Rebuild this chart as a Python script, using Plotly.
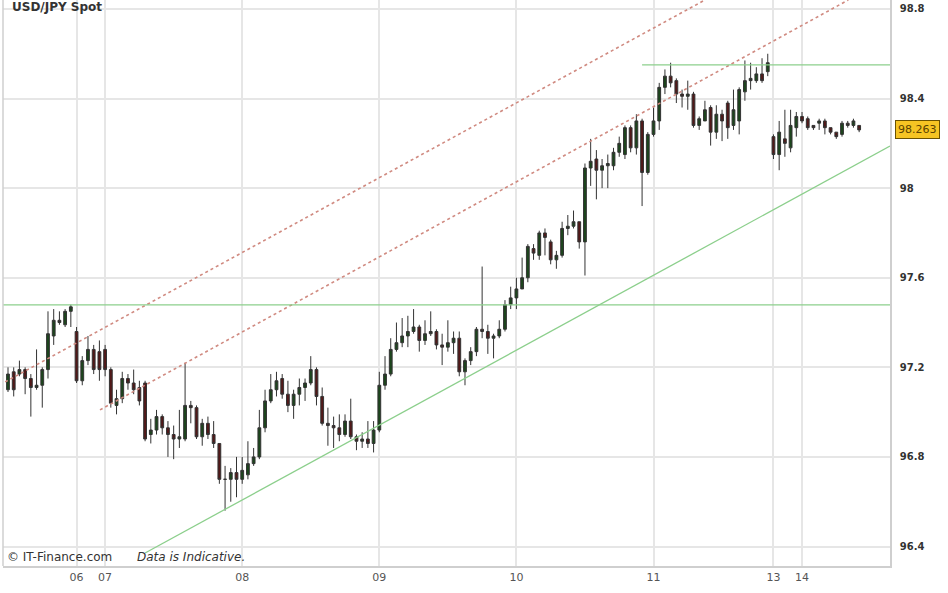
import plotly.graph_objects as go

# Hourly USD/JPY candles (index positions)
opens = [97.10, 97.18, 97.17, 97.19, 97.15, 97.11, 97.12, 97.19, 97.34, 97.41, 97.39, 97.45,
         97.36, 97.14, 97.23, 97.28, 97.27,
         97.28, 97.19, 97.03, 97.06, 97.15, 97.13, 97.11, 97.13, 96.90, 96.92, 96.98, 96.93,
         96.90, 96.88, 96.88, 97.03, 97.02, 96.89, 96.95, 96.90, 96.86, 96.70, 96.70, 96.73,
         96.70, 96.72, 96.77, 96.80, 96.93, 97.05, 97.10, 97.15, 97.08, 97.03, 97.08, 97.11,
         97.13, 97.19, 97.07, 96.95, 96.94, 96.93, 96.90, 96.96, 96.89, 96.87, 96.88, 96.86,
         96.92, 97.12, 97.17, 97.28, 97.31, 97.34, 97.36, 97.38, 97.32, 97.35, 97.36, 97.30,
         97.29, 97.31, 97.33, 97.18, 97.23, 97.27, 97.37, 97.36, 97.33, 97.34, 97.37, 97.48,
         97.51, 97.55, 97.60, 97.73, 97.70, 97.80, 97.76, 97.68, 97.70, 97.82, 97.83, 97.85,
         97.76, 98.09, 98.13, 98.08, 98.10, 98.10, 98.16, 98.15, 98.27, 98.18, 98.30, 98.07,
         98.24, 98.30, 98.45, 98.50, 98.48, 98.42, 98.41, 98.42, 98.28, 98.30, 98.36, 98.25,
         98.33, 98.38, 98.28, 98.30, 98.43, 98.48, 98.48, 98.51, 98.52,
         98.23, 98.15, 98.22, 98.18, 98.27,
         98.32, 98.31, 98.28, 98.29, 98.30, 98.27, 98.25, 98.24, 98.29, 98.28, 98.28]
highs = [97.20, 97.20, 97.23, 97.20, 97.17, 97.28, 97.20, 97.45, 97.46, 97.45, 97.46, 97.48,
         97.38, 97.25, 97.34, 97.30, 97.32,
         97.30, 97.20, 97.10, 97.18, 97.17, 97.19, 97.14, 97.14, 96.97, 97.01, 96.99, 96.96,
         96.94, 97.01, 97.22, 97.05, 97.03, 96.97, 96.98, 96.96, 96.86, 96.76, 96.75, 96.80,
         96.80, 96.87, 96.84, 97.01, 97.10, 97.17, 97.18, 97.17, 97.14, 97.10, 97.15, 97.15,
         97.25, 97.20, 97.11, 97.02, 96.98, 96.99, 96.99, 97.06, 96.90, 96.91, 96.96, 96.96,
         97.18, 97.25, 97.33, 97.40, 97.42, 97.43, 97.46, 97.39, 97.41, 97.45, 97.37, 97.35,
         97.41, 97.36, 97.36, 97.24, 97.29, 97.38, 97.65, 97.39, 97.35, 97.41, 97.50, 97.56,
         97.60, 97.69, 97.75, 97.75, 97.81, 97.82, 97.77, 97.72, 97.85, 97.88, 97.90, 97.85,
         98.11, 98.22, 98.17, 98.13, 98.15, 98.18, 98.23, 98.28, 98.28, 98.33, 98.31, 98.25,
         98.36, 98.47, 98.53, 98.56, 98.49, 98.44, 98.48, 98.43, 98.32, 98.39, 98.37, 98.37,
         98.35, 98.39, 98.44, 98.45, 98.57, 98.56, 98.54, 98.58, 98.60,
         98.24, 98.30, 98.35, 98.35, 98.34,
         98.34, 98.32, 98.28, 98.31, 98.31, 98.27, 98.25, 98.30, 98.30, 98.31, 98.28]
lows = [97.09, 97.07, 97.16, 97.08, 96.98, 97.10, 97.02, 97.15, 97.30, 97.39, 97.38, 97.38,
        97.13, 97.12, 97.21, 97.17, 97.14,
        97.16, 97.02, 96.99, 97.04, 97.10, 97.08, 97.03, 96.87, 96.86, 96.90, 96.90, 96.80,
        96.79, 96.84, 96.87, 96.95, 96.88, 96.85, 96.88, 96.84, 96.68, 96.56, 96.60, 96.62,
        96.68, 96.70, 96.76, 96.79, 96.91, 97.04, 97.07, 97.06, 97.00, 96.97, 97.03, 97.05,
        97.12, 97.03, 96.94, 96.85, 96.84, 96.87, 96.89, 96.88, 96.83, 96.84, 96.84, 96.82,
        96.91, 97.10, 97.16, 97.27, 97.29, 97.29, 97.35, 97.27, 97.30, 97.34, 97.28, 97.21,
        97.27, 97.26, 97.16, 97.12, 97.21, 97.25, 97.33, 97.26, 97.24, 97.33, 97.36, 97.46,
        97.46, 97.56, 97.58, 97.68, 97.68, 97.70, 97.66, 97.64, 97.69, 97.79, 97.82, 97.73,
        97.61, 98.01, 97.95, 98.00, 98.00, 98.08, 98.14, 98.13, 98.16, 98.15, 97.92, 98.06,
        98.23, 98.26, 98.42, 98.45, 98.38, 98.36, 98.35, 98.27, 98.26, 98.30, 98.19, 98.22,
        98.21, 98.22, 98.26, 98.24, 98.39, 98.44, 98.47, 98.47, 98.50,
        98.13, 98.08, 98.14, 98.16, 98.23,
        98.29, 98.26, 98.26, 98.26, 98.24, 98.24, 98.22, 98.23, 98.27, 98.27, 98.25]
closes = [97.17, 97.10, 97.19, 97.15, 97.11, 97.12, 97.19, 97.35, 97.41, 97.40, 97.45, 97.47,
          97.14, 97.23, 97.28, 97.19, 97.19,
          97.19, 97.04, 97.06, 97.15, 97.13, 97.10, 97.05, 96.88, 96.92, 96.98, 96.93, 96.90,
          96.88, 96.89, 97.03, 97.02, 96.89, 96.95, 96.90, 96.86, 96.70, 96.70, 96.73, 96.70,
          96.74, 96.77, 96.80, 96.93, 97.05, 97.10, 97.14, 97.08, 97.03, 97.08, 97.11, 97.13,
          97.19, 97.07, 96.95, 96.94, 96.93, 96.90, 96.96, 96.89, 96.87, 96.88, 96.86, 96.92,
          97.12, 97.17, 97.28, 97.31, 97.34, 97.36, 97.38, 97.32, 97.35, 97.36, 97.30, 97.29,
          97.31, 97.33, 97.18, 97.23, 97.27, 97.37, 97.36, 97.33, 97.34, 97.37, 97.48, 97.51,
          97.55, 97.60, 97.74, 97.71, 97.80, 97.78, 97.68, 97.70, 97.82, 97.83, 97.85, 97.76,
          98.09, 98.12, 98.08, 98.10, 98.11, 98.16, 98.20, 98.27, 98.18, 98.30, 98.07, 98.24,
          98.30, 98.45, 98.50, 98.47, 98.42, 98.41, 98.42, 98.28, 98.31, 98.35, 98.25, 98.33,
          98.30, 98.27, 98.35, 98.44, 98.48, 98.49, 98.51, 98.48, 98.56,
          98.15, 98.25, 98.20, 98.28, 98.32,
          98.30, 98.27, 98.27, 98.30, 98.27, 98.25, 98.23, 98.29, 98.28, 98.30, 98.26]

# Day labels and the candle index at which each day starts
day_labels = ["06", "07", "08", "09", "10", "11", "13", "14"]
day_starts = [12, 17, 41, 65, 89, 113, 134, 139]

y_ticks = [96.4, 96.8, 97.2, 97.6, 98.0, 98.4, 98.8]
last_price = 98.263

# Drawn trend lines: (index, price) endpoints
upper_red = ([-0.5, 122.0], [97.135, 98.84])
lower_red = ([16.1, 147.1], [97.01, 98.84])
support_green = ([24.0, 154.4], [96.371, 98.188])
resist_low = ([-0.875, 154.4], [97.479, 97.479])
resist_high = ([111.0, 154.4], [98.55, 98.55])

idx = list(range(len(closes)))

fig = go.Figure()

red_line = dict(color="#d08a80", width=1.6, dash="dot")
green_line = dict(color="#8ccf8c", width=1.3)
for (xs, ys), ln in [(upper_red, red_line), (lower_red, red_line),
                     (support_green, green_line), (resist_low, green_line),
                     (resist_high, green_line)]:
    fig.add_trace(go.Scatter(x=xs, y=ys, mode="lines", line=ln,
                             hoverinfo="skip", showlegend=False))

fig.add_trace(go.Candlestick(
    x=idx, open=opens, high=highs, low=lows, close=closes,
    increasing=dict(line=dict(color="#333333", width=1), fillcolor="#1c461c"),
    decreasing=dict(line=dict(color="#333333", width=1), fillcolor="#521818"),
    whiskerwidth=0, showlegend=False,
))

fig.update_layout(
    width=948, height=593,
    margin=dict(l=3, r=58, t=0, b=27),
    paper_bgcolor="white", plot_bgcolor="white",
    font=dict(family="DejaVu Sans", size=10, color="#444"),
    showlegend=False,
    xaxis=dict(
        range=[-0.875, 154.4], tickmode="array", tickvals=day_starts,
        ticktext=day_labels, showgrid=True, gridcolor="#e6e6e6", gridwidth=1.5,
        zeroline=False, showline=True, linecolor="#cfcfcf", linewidth=1.5,
        rangeslider=dict(visible=False), ticks="",
        tickfont=dict(family="DejaVu Sans", size=11, color="#555"),
    ),
    yaxis=dict(
        range=[96.313, 98.84], side="right", tickmode="array", tickvals=y_ticks,
        ticktext=[f"{v:g}" for v in y_ticks], showgrid=True, gridcolor="#e6e6e6",
        gridwidth=1.5, zeroline=False, showline=True, linecolor="#cfcfcf",
        linewidth=1.5, ticks="", ticklabelstandoff=6,
        tickfont=dict(family="DejaVu Sans", size=10, color="#333", weight="bold"),
    ),
    shapes=[dict(type="line", xref="paper", yref="paper", x0=0, x1=0, y0=0, y1=1,
                 line=dict(color="#cfcfcf", width=1.5))],
    annotations=[
        dict(text="<b>USD/JPY Spot</b>", xref="paper", yref="paper", x=0.008, y=1.0,
             xanchor="left", yanchor="top", showarrow=False, yshift=2,
             font=dict(family="DejaVu Sans", size=12, color="#333")),
        dict(text="© IT-Finance.com", xref="paper", yref="paper", x=0.002, y=0.0,
             xanchor="left", yanchor="bottom", showarrow=False, yshift=0,
             font=dict(family="DejaVu Sans", size=12, color="#333")),
        dict(text="<i>Data is Indicative.</i>", xref="paper", yref="paper", x=0.149, y=0.0,
             xanchor="left", yanchor="bottom", showarrow=False, yshift=0,
             font=dict(family="DejaVu Sans", size=12, color="#333")),
        dict(text=f"{last_price:.3f}", xref="paper", yref="y", x=1.0, y=last_price,
             xanchor="left", yanchor="middle", xshift=5, showarrow=False,
             bgcolor="#f6c423", bordercolor="#6b5200", borderwidth=1, borderpad=2,
             font=dict(family="DejaVu Sans", size=11, color="#5a4200")),
    ],
)

fig.write_html("out.html", config={"displayModeBar": False},
               post_script="document.body.style.margin='0';document.body.style.overflow='hidden';")
